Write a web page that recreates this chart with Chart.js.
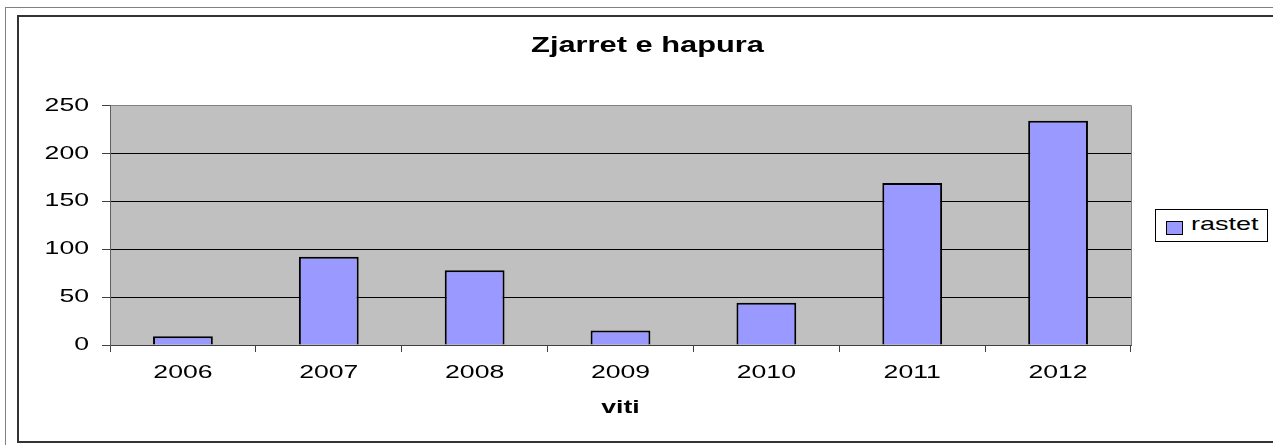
<!DOCTYPE html>
<html>
<head>
<meta charset="utf-8">
<script src="https://cdn.jsdelivr.net/npm/chart.js@4/dist/chart.umd.min.js"></script>
<style>
  html, body { margin: 0; padding: 0; background: #fff; overflow: hidden; }
  #outer-frame { position: absolute; left: 5px; top: 7px; width: 1400px; height: 500px;
    border-left: 1px solid #808080; border-top: 1px solid #808080; }
  #inner-frame { position: absolute; left: 17px; top: 15px; width: 1400px; height: 424px;
    border: 2px solid #333; }
  #chart-wrap { position: absolute; left: 0; top: 0; width: 1273px; height: 445px; }
  #legend { position: absolute; left: 1155px; top: 209px; width: 111px; height: 31px;
    border: 1px solid #000; background: #fff; font: 19px "Liberation Sans", Arial, sans-serif; color: #000; }
  #legend .swatch { position: absolute; left: 10px; top: 11px; width: 15px; height: 12px;
    background: #9999ff; border: 1.5px solid #000; }
  #legend .label { position: absolute; left: 35px; top: 3px; transform: scaleX(1.42); transform-origin: left center; }
</style>
</head>
<body>
<div id="outer-frame"></div>
<div id="inner-frame"></div>
<div id="chart-wrap"><canvas id="chart"></canvas></div>
<div id="legend"><span class="swatch"></span><span class="label">rastet</span></div>

<script>
// data
const years = ['2006', '2007', '2008', '2009', '2010', '2011', '2012'];
const rastet = [9, 92, 78, 15, 44, 169, 234];
const yMin = 0;
const yMax = 250;
const yStep = 50;

const titleText = 'Zjarret e hapura';
const xTitle = 'viti';
const seriesName = 'rastet';

// the reference text is drawn wide, so stretch glyphs horizontally (lines stay crisp)
const STRETCH = 1.4;
const stretchText = {
  id: 'stretchText',
  beforeInit(chart) {
    const ctx = chart.ctx;
    const fill = ctx.fillText.bind(ctx);
    const measure = ctx.measureText.bind(ctx);
    ctx.fillText = function(text, x, y) {
      ctx.save();
      ctx.translate(x, y);
      ctx.scale(STRETCH, 1);
      fill(text, 0, 0);
      ctx.restore();
    };
    ctx.measureText = function(text) {
      const m = measure(text);
      return {
        width: m.width * STRETCH,
        actualBoundingBoxAscent: m.actualBoundingBoxAscent,
        actualBoundingBoxDescent: m.actualBoundingBoxDescent,
        actualBoundingBoxLeft: m.actualBoundingBoxLeft * STRETCH,
        actualBoundingBoxRight: m.actualBoundingBoxRight * STRETCH
      };
    };
  }
};

// grey plot area + grey right edge
const plotArea = {
  id: 'plotArea',
  beforeDraw(chart) {
    const { ctx, chartArea: a } = chart;
    ctx.save();
    ctx.fillStyle = '#c0c0c0';
    ctx.fillRect(a.left, a.top, a.right - a.left, a.bottom - a.top);
    ctx.restore();
  },
  beforeDatasetsDraw(chart) {
    const { ctx, chartArea: a } = chart;
    ctx.save();
    ctx.strokeStyle = '#808080';
    ctx.lineWidth = 1;
    ctx.beginPath();
    ctx.moveTo(Math.round(a.right) + 0.5, a.top);
    ctx.lineTo(Math.round(a.right) + 0.5, a.bottom);
    ctx.stroke();
    ctx.restore();
  }
};

const font = { family: '"Liberation Sans", Arial, sans-serif', size: 19 };

new Chart(document.getElementById('chart'), {
  type: 'bar',
  data: {
    labels: years,
    datasets: [{
      label: seriesName,
      data: rastet,
      backgroundColor: '#9999ff',
      borderColor: '#000',
      borderWidth: 2,
      barPercentage: 0.41,
      categoryPercentage: 1
    }]
  },
  options: {
    responsive: true,
    maintainAspectRatio: false,
    animation: false,
    events: [],
    layout: { padding: { left: 22, right: 0, top: 0, bottom: 0 } },
    plugins: {
      legend: { display: false },
      tooltip: { enabled: false },
      title: {
        display: true,
        text: titleText,
        color: '#000',
        font: { family: font.family, size: 22, weight: 'bold' },
        padding: { top: 33, bottom: 46 }
      }
    },
    scales: {
      x: {
        afterFit(scale) { scale.height = 100; },
        grid: { drawOnChartArea: false, drawTicks: true, tickLength: 7, color: '#404040', offset: true },
        border: { color: '#404040', width: 1 },
        ticks: { color: '#000', font: font, padding: 9, maxRotation: 0 },
        title: {
          display: true,
          text: xTitle,
          color: '#000',
          font: { family: font.family, size: 19, weight: 'bold' },
          padding: { top: 0, bottom: 26 }
        }
      },
      y: {
        min: yMin,
        max: yMax,
        afterFit(scale) { scale.width = 88; },
        grid: {
          color: ctx => ctx.tick && ctx.tick.value === yMax ? '#808080' : '#000',
          tickColor: '#404040',
          tickLength: 8,
          lineWidth: 1
        },
        border: { color: '#606060', width: 1 },
        ticks: { stepSize: yStep, color: '#000', font: font, padding: 13 }
      },
      // empty right-hand box: keeps room for the legend so the title centres like the reference
      legendSpace: {
        type: 'linear',
        position: 'right',
        afterFit(scale) { scale.width = 142; },
        grid: { display: false },
        border: { display: false },
        ticks: { display: false }
      }
    }
  },
  plugins: [stretchText, plotArea]
});
</script>
</body>
</html>
